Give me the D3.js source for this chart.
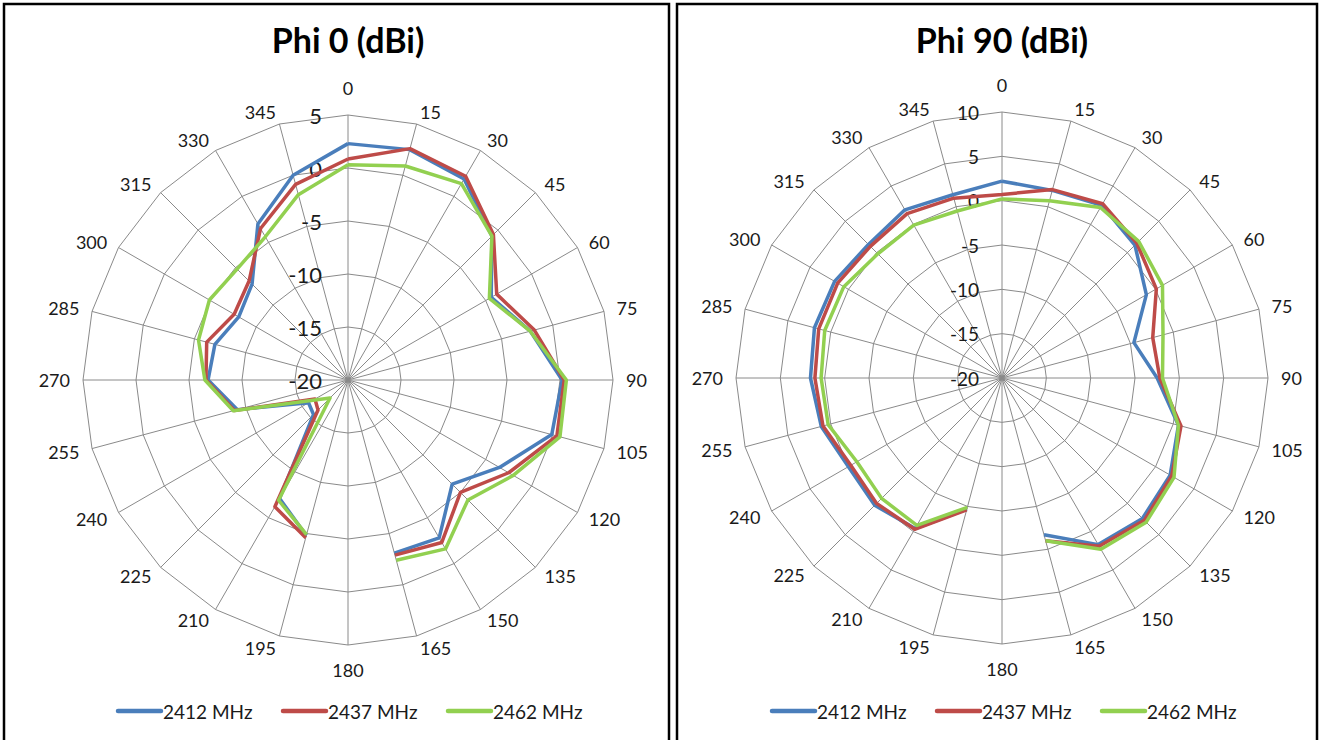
<!DOCTYPE html>
<html>
<head>
<meta charset="utf-8">
<script src="https://cdn.jsdelivr.net/npm/d3@7"></script>
<style>
    body { margin: 0; background: #fff; }
    text { font-family: Lato, 'Open Sans', sans-serif; fill: #1a1a1a; }
</style>
</head>
<body>
<svg id="chart" width="1322" height="740"></svg>
<script>
/* global d3 */
'use strict';

// Angles (degrees) round the radar; 180 has no measurement
const categories = [0, 15, 30, 45, 60, 75, 90, 105, 120, 135, 150, 165,
    180, 195, 210, 225, 240, 255, 270, 285, 300, 315, 330, 345];
const seriesNames = ['2412 MHz', '2437 MHz', '2462 MHz'];

// Phi 0 (dBi)
const phi0Ticks = [-20, -15, -10, -5, 0, 5];
const phi0_2412 = [2.3, 2.5, 1.9, -0.8, -4.4, -2.2, 0.2, -0.1, -3.5, -6.1, -2.8, -3.1,
    null, -4.8, -7.1, -15.4, -15.7, -9.2, -6.8, -7.0, -8.1, -7.2, -3.0, 0.0];
const phi0_2437 = [0.85, 2.6, 2.2, -0.6, -3.8, -1.8, 0.4, 0.4, -2.5, -5.0, -2.3, -2.9,
    null, -4.6, -6.2, -16.0, -16.4, -8.9, -6.6, -6.2, -7.6, -6.8, -3.5, -0.9];
const phi0_2462 = [0.3, 0.9, 1.4, -0.8, -4.6, -2.2, 0.6, 0.7, -2.0, -4.0, -1.6, -2.4,
    null, -4.9, -6.9, -17.6, -16.2, -8.8, -6.5, -5.4, -4.9, -5.2, -4.4, -1.9];

// Phi 90 (dBi)
const phi90Ticks = [-20, -15, -10, -5, 0, 5, 10];
const phi90_2412 = [2.2, 1.9, 2.5, 1.2, -1.2, -4.6, -2.5, 0.6, 1.9, 2.4, 1.7, -1.7,
    null, -4.7, -0.4, 0.3, 0.0, 1.1, 1.6, 1.9, 1.8, 1.3, 1.9, 1.4];
const phi90_2437 = [0.7, 2.0, 2.7, 1.5, 0.1, -2.4, -2.2, 0.9, 2.1, 2.7, 1.9, -1.0,
    null, -4.6, -0.3, 0.0, -0.3, 0.9, 1.1, 1.4, 1.4, 1.0, 1.4, 1.0];
const phi90_2462 = [0.2, 0.7, 2.2, 1.8, 0.9, -1.2, -1.9, 0.6, 2.4, 3.0, 2.3, -1.0,
    null, -4.9, -0.8, -0.8, -1.1, 0.3, 0.4, 0.7, 0.6, -0.2, -0.1, -0.5];

const colors = ['#4a7ebb', '#be4b48', '#92d050'];
const gridColor = '#8a8a8a';

const svg = d3.select('#chart');

function drawRadar(options) {
    const cx = options.cx;
    const cy = options.cy;
    const R = options.radius;
    const ticks = options.ticks;
    const g = svg.append('g').attr('transform', 'translate(' + cx + ',' + cy + ')');

    //noinspection JSUnresolvedFunction
    const r = d3.scaleLinear()
        .domain([d3.min(ticks), d3.max(ticks)])
        .range([0, R]);

    //noinspection JSUnresolvedFunction
    const angle = d3.scaleLinear()
        .domain([0, 360])
        .range([0, 2 * Math.PI]);

    //
    // Grid: polygon rings and spokes
    //
    const ring = d3.lineRadial()
        .angle(function(d) { return angle(d); })
        .curve(d3.curveLinearClosed);

    g.selectAll('.ring')
        .data(ticks.slice(1))
        .enter().append('path')
        .attr('class', 'ring')
        .attr('d', function(v) { return ring.radius(r(v))(categories); })
        .attr('fill', 'none')
        .attr('stroke', gridColor)
        .attr('stroke-width', 1);

    g.selectAll('.spoke')
        .data(categories)
        .enter().append('line')
        .attr('class', 'spoke')
        .attr('x1', 0).attr('y1', 0)
        .attr('x2', function(d) { return Math.sin(angle(d)) * R; })
        .attr('y2', function(d) { return -Math.cos(angle(d)) * R; })
        .attr('stroke', gridColor)
        .attr('stroke-width', 1);

    //
    // Category labels
    //
    g.selectAll('.cat')
        .data(categories)
        .enter().append('text')
        .attr('class', 'cat')
        .attr('font-size', '18px')
        .attr('dominant-baseline', 'central')
        .each(function(d) {
            const sx = Math.sin(angle(d));
            const sy = -Math.cos(angle(d));
            const t = d3.select(this);
            if (Math.abs(sx) < 0.01) {
                t.attr('text-anchor', 'middle')
                    .attr('x', 0)
                    .attr('y', sy * R + (sy < 0 ? -27 : 25));
            } else {
                t.attr('text-anchor', sx > 0 ? 'start' : 'end')
                    .attr('x', sx * R + sx * 13)
                    .attr('y', sy * R + sy * 12);
            }
        })
        .text(function(d) { return d; });

    //
    // Radial tick labels
    //
    g.selectAll('.tick-label')
        .data(ticks)
        .enter().append('text')
        .attr('class', 'tick-label')
        .attr('font-size', options.tickFont)
        .attr('text-anchor', 'end')
        .attr('dominant-baseline', 'central')
        .attr('x', -options.tickGap)
        .attr('y', function(v) { return -r(v); })
        .text(function(v) { return v; });

    //
    // Data lines (first point repeated so 345 joins 0; null leaves the gap)
    //
    const line = d3.lineRadial()
        .defined(function(d) { return d.v !== null; })
        .angle(function(d) { return angle(d.a); })
        .radius(function(d) { return r(d.v); });

    options.series.forEach(function(values, k) {
        const pts = categories.map(function(a, i) { return { a: a, v: values[i] }; });
        pts.push({ a: 360, v: values[0] });
        g.append('path')
            .datum(pts)
            .attr('d', line)
            .attr('fill', 'none')
            .attr('stroke', colors[k])
            .attr('stroke-width', 3.5)
            .attr('stroke-linejoin', 'round');
    });

    //
    // Title
    //
    svg.append('text')
        .attr('x', cx)
        .attr('y', 53)
        .attr('text-anchor', 'middle')
        .attr('font-size', '34px')
        .attr('font-weight', 'bold')
        .style('fill', '#000')
        .text(options.title);

    //
    // Legend
    //
    const pitch = 165;
    const legend = svg.append('g')
        .attr('transform', 'translate(' + (cx - 230) + ',711)');
    seriesNames.forEach(function(name, k) {
        const item = legend.append('g').attr('transform', 'translate(' + (k * pitch) + ',0)');
        item.append('line')
            .attr('x1', 0).attr('x2', 43)
            .attr('y1', 0).attr('y2', 0)
            .attr('stroke', colors[k])
            .attr('stroke-width', 4.5)
            .attr('stroke-linecap', 'round');
        item.append('text')
            .attr('x', 45)
            .attr('y', 0)
            .attr('dominant-baseline', 'central')
            .attr('font-size', '19px')
            .text(name);
    });
}

// Panel frames
svg.append('rect')
    .attr('x', 4).attr('y', 4).attr('width', 665).attr('height', 760)
    .attr('fill', 'none').attr('stroke', '#000').attr('stroke-width', 2.5);
svg.append('rect')
    .attr('x', 677).attr('y', 4).attr('width', 640).attr('height', 760)
    .attr('fill', 'none').attr('stroke', '#000').attr('stroke-width', 2.5);

drawRadar({
    title: 'Phi 0 (dBi)',
    cx: 348, cy: 380, radius: 265,
    ticks: phi0Ticks,
    tickFont: '22px', tickGap: 26,
    series: [phi0_2412, phi0_2437, phi0_2462]
});

drawRadar({
    title: 'Phi 90 (dBi)',
    cx: 1002, cy: 378, radius: 266,
    ticks: phi90Ticks,
    tickFont: '19px', tickGap: 23,
    series: [phi90_2412, phi90_2437, phi90_2462]
});
</script>
</body>
</html>
